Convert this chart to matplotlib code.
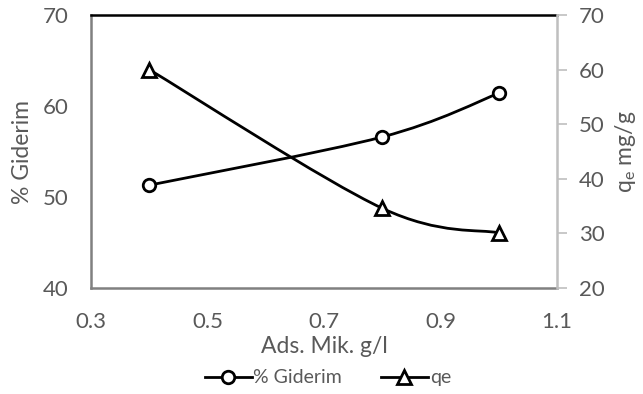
import matplotlib
matplotlib.use("Agg")
import matplotlib.pyplot as plt
import numpy as np
from matplotlib.path import Path
from matplotlib.patches import PathPatch
from matplotlib.lines import Line2D

# data
ads_mik = [0.4, 0.8, 1.0]
giderim = [51.3, 56.6, 61.4]
qe = [60.0, 34.6, 30.1]

plt.rcParams['font.family'] = ['Lato', 'DejaVu Sans']
GRAY = '#595959'


def smooth_path(xs, ys):
    # Excel-style smoothed line: cubic Bezier through the points
    pts = np.column_stack([xs, ys]).astype(float)
    n = len(pts)
    verts = [pts[0]]
    codes = [Path.MOVETO]
    for i in range(n - 1):
        p0 = pts[max(i - 1, 0)]
        p1 = pts[i]
        p2 = pts[i + 1]
        p3 = pts[min(i + 2, n - 1)]
        c1 = p1 + (p2 - p0) / 6.0
        c2 = p2 - (p3 - p1) / 6.0
        verts += [c1, c2, p2]
        codes += [Path.CURVE4] * 3
    return Path(verts, codes)


fig = plt.figure(figsize=(6.43, 3.94), dpi=100)
ax = fig.add_axes([91 / 643, 1 - 288 / 394, (557 - 91) / 643, (288 - 15) / 394])
ax2 = ax.twinx()

ax.set_xlim(0.3, 1.1)
ax.set_ylim(40, 70)
ax2.set_ylim(20, 70)
ax.set_xticks([0.3, 0.5, 0.7, 0.9, 1.1])
ax.set_yticks([40, 50, 60, 70])
ax2.set_yticks([20, 30, 40, 50, 60, 70])

ax.add_patch(PathPatch(smooth_path(ads_mik, giderim), fill=False, lw=2, color='black', zorder=3))
ax.plot(ads_mik, giderim, ls='none', marker='o', ms=9, mfc='white', mec='black', mew=2, zorder=4)
ax2.add_patch(PathPatch(smooth_path(ads_mik, qe), fill=False, lw=2, color='black', zorder=3))
ax2.plot(ads_mik, qe, ls='none', marker='^', ms=10, mfc='white', mec='black', mew=2, zorder=4)

for a in (ax, ax2):
    for s in a.spines.values():
        s.set_visible(False)
ax.spines['left'].set_visible(True)
ax.spines['left'].set_color('#808080')
ax.spines['left'].set_linewidth(1.8)
ax.spines['bottom'].set_visible(True)
ax.spines['bottom'].set_color('#808080')
ax.spines['bottom'].set_linewidth(1.8)
ax.spines['top'].set_visible(True)
ax.spines['top'].set_color('black')
ax.spines['top'].set_linewidth(1.8)
ax2.spines['right'].set_visible(True)
ax2.spines['right'].set_color('#BFBFBF')
ax2.spines['right'].set_linewidth(1.8)

ax.tick_params(axis='y', length=0, labelsize=16, labelcolor=GRAY, pad=16)
ax.tick_params(axis='x', length=0, labelsize=16, labelcolor=GRAY, pad=17)
ax2.tick_params(axis='y', length=7, width=1.2, color='#BFBFBF', labelsize=16, labelcolor=GRAY, pad=9)

ax.set_xlabel('Ads. Mik. g/l', fontsize=16.5, color=GRAY, labelpad=3)
ax.set_ylabel('% Giderim', fontsize=16.5, color=GRAY, labelpad=7)
ax2.set_ylabel('q$_\\mathregular{e}$ mg/g', fontsize=16.5, color=GRAY, labelpad=6)

handles = [
    Line2D([], [], color='black', lw=2, marker='o', ms=9, mfc='white', mec='black', mew=2),
    Line2D([], [], color='black', lw=2, marker='^', ms=10, mfc='white', mec='black', mew=2),
]
fig.legend(handles, ['% Giderim', 'qe'], loc='lower center', bbox_to_anchor=(0.51, -0.025),
           ncol=2, frameon=False, fontsize=14, labelcolor=GRAY, handlelength=2.4,
           handletextpad=0.1, columnspacing=2.0)

fig.savefig('out.png', dpi=100)
